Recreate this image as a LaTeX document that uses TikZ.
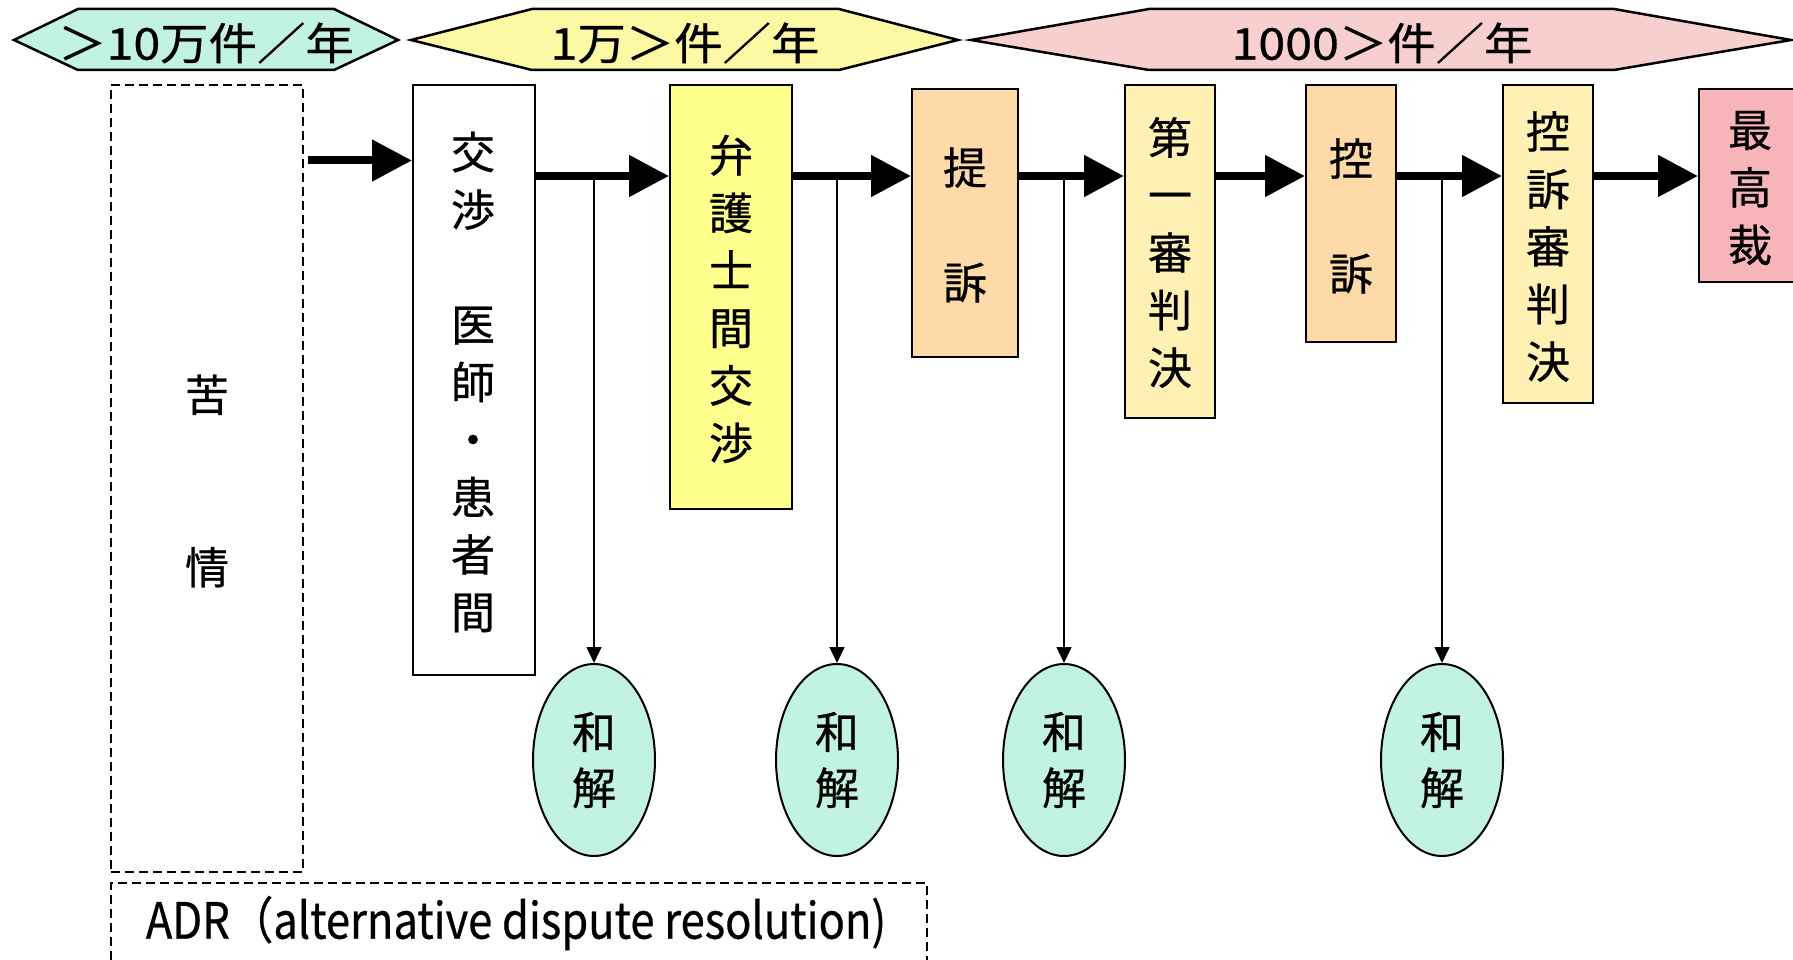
\documentclass[tikz,border=0pt]{standalone}
\usepackage{fontspec}
\setmainfont{Noto Sans CJK JP}[FakeBold=0.6]
\usetikzlibrary{arrows.meta,shapes.geometric}
\definecolor{mint}{HTML}{C2F2E2}
\definecolor{hexyel}{HTML}{FCF8A4}
\definecolor{hexpink}{HTML}{F8CFCF}
\definecolor{boxyel}{HTML}{FFFF8E}
\definecolor{peach}{HTML}{FDDAA8}
\definecolor{lightpeach}{HTML}{FFF0B4}
\definecolor{pinkbox}{HTML}{F7B5BA}
\begin{document}
\begin{tikzpicture}[x=1pt,y=-1pt,
  box/.style={draw=black, line width=2pt, inner sep=0pt, rectangle},
  dbox/.style={draw=black, line width=1.5pt, dash pattern=on 9pt off 5pt, inner sep=0pt, rectangle},
  vtxt/.style={align=center, inner sep=0pt, font=\fontsize{44}{57.5}\selectfont},
  hex/.style={draw=black, line width=2.5pt, line join=miter},
  hextxt/.style={inner sep=0pt, font=\fontsize{44}{44}\selectfont, xscale=1.1},
  wakai/.style={ellipse, draw=black, line width=2pt, fill=mint, minimum width=122pt, minimum height=192pt, inner sep=0pt, align=center, font=\fontsize{44}{56}\selectfont},
  big/.style={line width=8pt, -{Triangle[length=40pt,width=40pt]}},
  thin/.style={line width=1.5pt, -{Triangle[length=16pt,width=15pt]}}]
\useasboundingbox (0,0) rectangle (1793,960);

% hexagon banners
\draw[hex, fill=mint] (14,40) -- (78,9) -- (334,9) -- (398,40) -- (334,70) -- (78,70) -- cycle;
\node[hextxt] (h1) at (206,43) {＞10万件／年};
\draw[hex, fill=hexyel] (411,40) -- (532,9) -- (839,9) -- (958,40) -- (839,70) -- (532,70) -- cycle;
\node[hextxt] (h2) at (685,43) {1万＞件／年};
\draw[hex, fill=hexpink] (971,40) -- (1149,9) -- (1614,9) -- (1791,40) -- (1614,70) -- (1149,70) -- cycle;
\node[hextxt] (h3) at (1382,43) {1000＞件／年};

% dashed boxes
\node[dbox, minimum width=192pt, minimum height=787pt] (kujo) at (207,478.5) {};
\node[vtxt] (kujot) at (207,481) {苦\\\mbox{}\\\mbox{}\\情};
\node[dbox, minimum width=816pt, minimum height=92pt] (adr) at (519,929) {};
\node[inner sep=0pt, font=\fontsize{50}{50}\selectfont, xscale=0.87] (adrt) at (516,923) {ADR（alternative dispute resolution)};

% process boxes
\node[box, fill=white, minimum width=122pt, minimum height=590pt] (kosho) at (474,380) {};
\node[vtxt] (koshot) at (473,382) {交\\渉\\\mbox{}\\医\\師\\・\\患\\者\\間};
\node[box, fill=boxyel, minimum width=122pt, minimum height=424pt] (bengo) at (731,297) {};
\node[vtxt] (bengot) at (731,299) {弁\\護\\士\\間\\交\\渉};
\node[box, fill=peach, minimum width=106pt, minimum height=268pt] (teiso) at (965,223) {};
\node[vtxt] (teisot) at (965,225) {提\\\mbox{}\\訴};
\node[box, fill=lightpeach, minimum width=90pt, minimum height=333pt] (dai1) at (1170,251.5) {};
\node[vtxt] (dai1t) at (1170,252.5) {第\\一\\審\\判\\決};
\node[box, fill=peach, minimum width=90pt, minimum height=257pt] (koso) at (1351,213.5) {};
\node[vtxt] (kosot) at (1351,216) {控\\\mbox{}\\訴};
\node[box, fill=lightpeach, minimum width=90pt, minimum height=318pt] (kososhin) at (1548,244) {};
\node[vtxt] (kososhint) at (1548,246.5) {控\\訴\\審\\判\\決};
\node[box, fill=pinkbox, minimum width=106pt, minimum height=193pt] (saiko) at (1752,185.5) {};
\node[vtxt] (saikot) at (1750,188) {最\\高\\裁};

% settlement ellipses
\node[wakai] (w1) at (594,760) {和\\解};
\node[wakai] (w2) at (837,760) {和\\解};
\node[wakai] (w3) at (1064,760) {和\\解};
\node[wakai] (w4) at (1442,760) {和\\解};

% connectors
\coordinate (y0) at (0,160.5);
\coordinate (ym) at (0,176);
\path (kujo.east |- y0) ++(4,0) coordinate (a0s);
\draw[big] (a0s) -- (kosho.west |- y0);

\draw[thin] (w1.north |- ym) -- (w1.north);
\draw[thin] (w2.north |- ym) -- (w2.north);
\draw[thin] (w3.north |- ym) -- (w3.north);
\draw[thin] (w4.north |- ym) -- (w4.north);

\draw[big] (kosho.east |- ym) -- (bengo.west |- ym);
\draw[big] (bengo.east |- ym) -- (teiso.west |- ym);
\draw[big] (teiso.east |- ym) -- (dai1.west |- ym);
\draw[big] (dai1.east |- ym) -- (koso.west |- ym);
\draw[big] (koso.east |- ym) -- (kososhin.west |- ym);
\draw[big] (kososhin.east |- ym) -- (saiko.west |- ym);
\end{tikzpicture}
\end{document}
